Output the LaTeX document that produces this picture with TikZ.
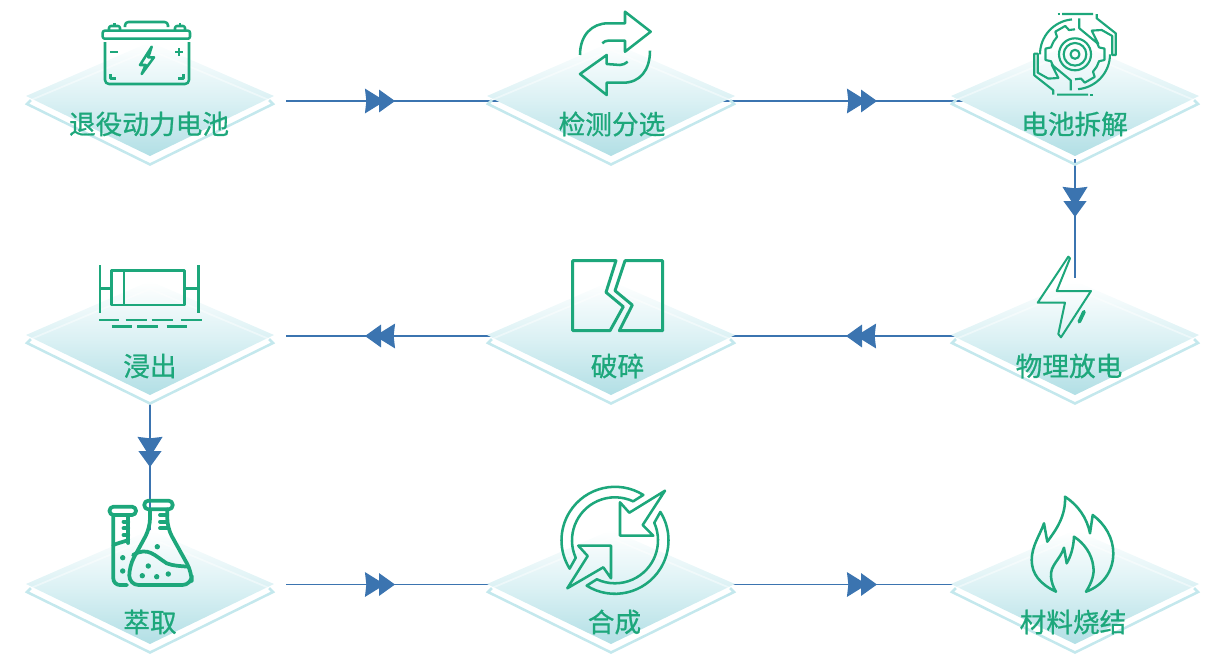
\documentclass[tikz,border=0pt]{standalone}
\usepackage{fontspec}
\setmainfont[FakeBold=0.8]{Noto Sans CJK SC}
\usetikzlibrary{arrows.meta, decorations.markings}
\definecolor{leafgreen}{HTML}{1DA77B}
\definecolor{flowblue}{HTML}{3B74B0}
\definecolor{paleaqua}{HTML}{C4E8ED}
\definecolor{deepaqua}{HTML}{B2DFE5}
\tikzset{
    twintip/.tip = {Stealth[length = 15pt, width = 18.5pt, inset = 1pt, sep = -4.5pt] Triangle[length = 12pt, width = 17pt]},
    stepnode/.style = {inner sep = 0pt, outer sep = 0pt, minimum width = 165pt, minimum height = 87pt},
    widenode/.style = {stepnode, minimum width = 204pt},
    steplabel/.style = {text = leafgreen, font = \fontsize{20pt}{22pt}\selectfont},
    flowline/.style = {draw = flowblue, line width = 0.9pt},
    flowdown/.style = {draw = flowblue, line width = 1.8pt},
    twinmark/.style = {postaction = {decorate, decoration = {markings, mark = at position #1 with {\arrow{twintip}}}}},
    icon/.style = {draw = leafgreen, line width = 1.9pt, line join = round},
    thinicon/.style = {icon, line width = 1.6pt},
    fullicon/.style = {icon, line width = 2.8pt, line cap = round}
}
% the two stacked diamonds under every icon
\newcommand{\stepdiamond}[2]{
    \begin{scope}[shift = {(#1,#2)}]
        \shade[top color = white, bottom color = deepaqua, middle color = paleaqua!60!white]
            (-124,0) -- (0,-54) -- (124,0) -- (0,60) -- cycle;
        \draw[paleaqua, line width = 1.9pt, line join = miter] (-119,4) -- (-123,8) -- (0,68.5) -- (123,8) -- (119,4);
        \draw[white, opacity = 0.45, line width = 1.3pt] (-119,4) -- (0,-46) -- (119,4);
    \end{scope}
}

\begin{document}
\begin{tikzpicture}[x = 0.75pt, y = -0.75pt]
    \useasboundingbox (0,0) rectangle (1211,654);

    \node[widenode] (retired) at (150,101) {};
    \node[stepnode] (sorting) at (611,101) {};
    \node[stepnode] (dismantling) at (1075,101) {};
    \node[stepnode] (discharge) at (1075,336) {};
    \node[stepnode] (crushing) at (611,336) {};
    \node[widenode] (leaching) at (150,336) {};
    \node[widenode] (extraction) at (150,584.5) {};
    \node[stepnode] (synthesis) at (611,584.5) {};
    \node[stepnode] (sintering) at (1075,584.5) {};

    \draw[flowline, twinmark = 81.75pt] (retired) -- (sorting);
    \draw[flowline, twinmark = 117pt] (sorting) -- (dismantling);
    \draw[flowdown, twinmark = 43.5pt] (dismantling) -- (discharge);
    \draw[flowline, twinmark = 89.25pt] (discharge) -- (crushing);
    \draw[flowline, twinmark = 102pt] (crushing) -- (leaching);
    \draw[flowdown, twinmark = 54.75pt, shorten <= 7.5pt, shorten >= -15pt] (leaching) -- (extraction);
    \draw[flowline, twinmark = 81.75pt] (extraction) -- (synthesis);
    \draw[flowline, twinmark = 117pt] (synthesis) -- (sintering);

    \stepdiamond{150}{96}
    \stepdiamond{611}{96}
    \stepdiamond{1075}{96}
    \stepdiamond{150}{335}
    \stepdiamond{611}{335}
    \stepdiamond{1075}{335}
    \stepdiamond{150}{584}
    \stepdiamond{611}{584}
    \stepdiamond{1075}{584}

    \node[steplabel] (retiredlabel) at (149,124) {退役动力电池};
    \node[steplabel] (sortinglabel) at (612,124) {检测分选};
    \node[steplabel] (dismantlinglabel) at (1074.5,124) {电池拆解};
    \node[steplabel] (dischargelabel) at (1069,366) {物理放电};
    \node[steplabel] (crushinglabel) at (617.5,366) {破碎};
    \node[steplabel] (leachinglabel) at (150,366) {浸出};
    \node[steplabel] (extractionlabel) at (150,622) {萃取};
    \node[steplabel] (synthesislabel) at (614.5,622) {合成};
    \node[steplabel] (sinteringlabel) at (1073,622) {材料烧结};

    % battery
    \draw[icon, rounded corners = 1.5pt] (102.7,30.7) rectangle (190,38.7);
    \draw[icon, rounded corners = 3pt] (105,42) -- (105,84) -- (189,84) -- (189,42);
    \draw[icon, rounded corners = 2.5pt] (125,27) -- (125,22) -- (168,22) -- (168,27);
    \draw[icon, rounded corners = 1.5pt] (109,30) -- (109,26) -- (120,26) -- (120,30);
    \draw[icon, rounded corners = 1.5pt] (175,30) -- (175,26) -- (185,26) -- (185,30);
    \draw[icon] (114.5,26) -- (114.5,22.5) (180,26) -- (180,22.5);
    \draw[icon] (110,52) -- (117.5,52) (175,52) -- (183,52) (179,48) -- (179,56);
    \draw[icon] (151.7,46.7) -- (140,65) -- (145.7,65) -- (141.7,74) -- (154,57.3) -- (148.3,57.3) -- cycle;
    \draw[icon] (110.5,74) -- (110.5,78.5) -- (115.5,78.5) (183.3,74) -- (183.3,78.5) -- (177.7,78.5);

    % recycling arrows
    \draw[icon] (580,55) .. controls (580,35) and (592,23.3) .. (608,23.3) -- (625,23.3) -- (625,11.7)
        -- (650.7,31.7) -- (625,51.7) -- (625,40.7) -- (608,40.7) .. controls (606,40.7) and (604,41.5) .. (602.3,43.3);
    \draw[icon] (650,50.7) .. controls (650,70) and (640,82.7) .. (623.3,82.7) -- (606.7,82.7) -- (606.7,95)
        -- (580,74) -- (606.7,55) -- (606.7,64) -- (620,65) .. controls (623,65) and (625.5,63.5) .. (627.7,61.7);

    % gear held by two hands
    \begin{scope}[shift = {(1075,54.3)}]
        \foreach \r in {4.5,11.3,16}
            \draw[thinicon] (0,0) circle[radius = \r];
        \foreach \a in {-120,-180,0,60}
            \draw[thinicon] (\a-30:25) -- (\a-16:25) -- (\a-11:30) -- (\a+11:30) -- (\a+16:25) -- (\a+30:25);
        \foreach \a in {0,180} {
            \draw[thinicon, rotate = \a] (-180:35) arc[start angle = -180, end angle = -95, radius = 35];
            \draw[thinicon, rotate = \a] (-13,-40.3) -- (18,-40.3) (21.7,-40.3) -- (21.7,-36) -- (40.7,-21) -- (40.7,0.7) -- (37.3,0.7)
                -- (37.3,-18.3) -- (26.7,-24.3) -- (16.7,-23.7) -- (23.3,-10.3) -- (4.3,-26) -- (4.3,-36);
            \draw[thinicon, rotate = \a] (-17.5,-40.3) -- (-15,-40.3);
        }
    \end{scope}

    % lightning
    \draw[thinicon, line width = 1.5pt] (1068.3,256.7) -- (1037.7,302.7) -- (1065,302.7) -- (1058.3,334) -- (1061,337.3) -- (1091,291) -- (1056.7,291) -- (1070,258.3) -- cycle;
    \draw[fullicon] (1084,311.7) -- (1079.3,321.7);

    % cracked block
    \draw[icon, line width = 2.2pt] (616,260.7) -- (572.7,260.7) -- (572.7,330.7) -- (610,330.7) -- (623.3,306.7) -- (606,292.3) -- cycle;
    \draw[icon, line width = 2.2pt] (625,260.7) -- (662.7,260.7) -- (662.7,330.7) -- (619.3,330.7) -- (632.3,305) -- (615,290.7) -- cycle;

    % leaching vessel
    \draw[icon] (111.7,270.7) rectangle (184.3,305);
    \draw[icon] (124,270.7) -- (124,305);
    \draw[icon] (100,265) -- (100,312.7) (198.3,265) -- (198.3,312.7);
    \draw[icon] (100,288.3) -- (111.7,288.3) (184.3,288.3) -- (198.3,288.3);
    \draw[icon] (99,320) -- (119.3,320) (125.7,320) -- (146.7,320) (151.7,320) -- (172.7,320) (180.7,320) -- (201.7,320);
    \draw[icon] (111.7,326.7) -- (132.3,326.7) (137.3,326.7) -- (158.3,326.7) (166.7,326.7) -- (187.3,326.7);

    % test tube and flask
    \draw[fullicon, rounded corners = 3pt] (109.5,506.7) rectangle (136,515);
    \draw[fullicon, rounded corners = 5pt] (113.3,515) -- (113.3,585) -- (127,585);
    \draw[fullicon] (128.3,515) -- (128.3,543);
    \draw[fullicon] (123.5,521.7) -- (128.3,521.7) (123.5,528.3) -- (128.3,528.3) (123.5,535) -- (128.3,535);
    \draw[fullicon] (113.3,545) .. controls (118,543) and (123,542) .. (128.3,540);
    \fill[leafgreen] (122.7,557.7) circle[radius = 2.7] (122.7,571) circle[radius = 2.7];
    \draw[fullicon, rounded corners = 3pt] (144.3,500.7) rectangle (172.7,509.3);
    \draw[fullicon, rounded corners = 7pt] (150,509.3) -- (150,528) -- (129.3,566) -- (129.3,585) -- (191.7,585) -- (191.7,572) -- (167.3,528) -- (167.3,509.3);
    \draw[fullicon] (160,515) -- (167.3,515) (160,521.7) -- (167.3,521.7) (160,528.3) -- (167.3,528.3);
    \draw[fullicon] (133,555) .. controls (148,546) and (155,556) .. (166.7,563.3) .. controls (173,566) and (181,566) .. (188.3,566.7);
    \fill[leafgreen] (157.3,546.7) circle[radius = 2.7] (148.3,566) circle[radius = 2.7] (168.3,574) circle[radius = 2.7]
        (142.3,575.7) circle[radius = 2.7] (156.7,576.7) circle[radius = 2.7];

    % synthesis cycle
    \begin{scope}[shift = {(615,540.3)}]
        \foreach \a in {0,180}
            \draw[icon, rotate = \a] (-58:53.5) arc[start angle = -58, end angle = -212, radius = 53.5]
                -- (-204:43) arc[start angle = -204, end angle = -65, radius = 43] -- cycle;
    \end{scope}
    \draw[icon] (665,490.7) -- (629.3,512.7) -- (620,502.3) -- (620,535.7) -- (653.3,535.7) -- (642.7,525) -- cycle;
    \draw[icon] (567.3,588.3) -- (603.3,567.3) -- (611,578.3) -- (611,545.7) -- (578.3,545.7) -- (587.7,556) -- cycle;

    % flame
    \draw[icon] (1056,591.7) .. controls (1040,584) and (1031.7,574) .. (1031.7,560) .. controls (1031.7,546) and (1040,535) .. (1044,523.3)
        -- (1047.3,541.7) .. controls (1056,530) and (1066,516) .. (1065,496.7) .. controls (1078,505) and (1087,518) .. (1090,533.3)
        -- (1092.7,515) .. controls (1105,524) and (1113.3,538) .. (1113.3,553.3) .. controls (1113.3,572) and (1102,586) .. (1086,591.7)
        .. controls (1092,582) and (1094.5,574) .. (1093.3,566.7) .. controls (1092,554) and (1084,543) .. (1074,536.7)
        .. controls (1073.5,547) and (1071,556) .. (1066.7,563.3) -- (1064,547.7) .. controls (1060,560) and (1050,565) .. (1051,576.7)
        .. controls (1051.5,582) and (1053,587) .. (1056,591.7) -- cycle;
\end{tikzpicture}
\end{document}
